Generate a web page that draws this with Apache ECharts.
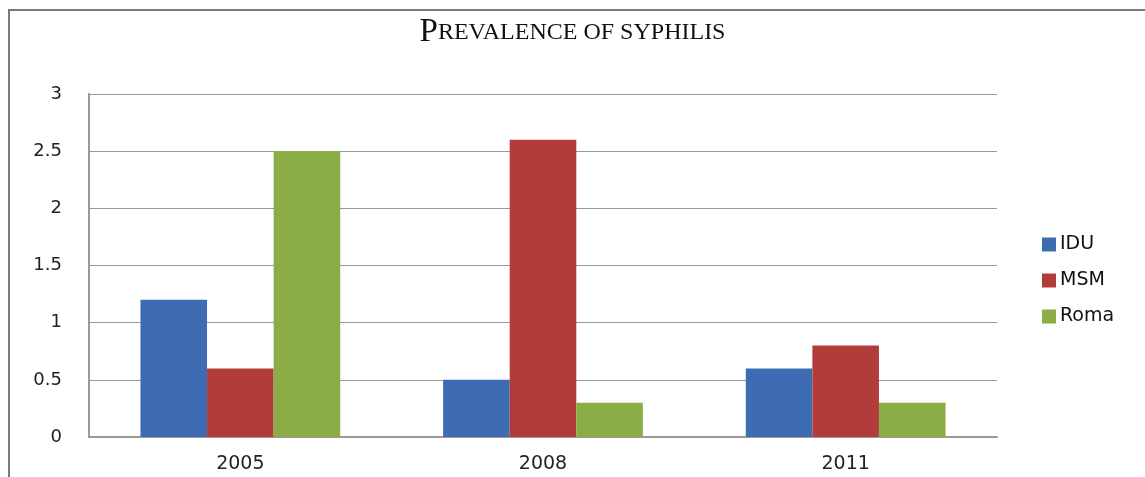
<!DOCTYPE html>
<html>
<head>
<meta charset="utf-8">
<script src="https://cdn.jsdelivr.net/npm/echarts@6/dist/echarts.min.js"></script>
<style>
  html, body { margin: 0; padding: 0; background: #fff; }
  #main { width: 1145px; height: 477px; }
</style>
</head>
<body>
<div id="main"></div>
<script>
var years = ['2005', '2008', '2011'];
var idu = [1.2, 0.5, 0.6];
var msm = [0.6, 2.6, 0.8];
var roma = [2.5, 0.3, 0.3];

var myChart = echarts.init(document.getElementById('main'));
var option = {
    backgroundColor: '#fff',
    animation: false,
    title: {
        text: '{a|P}{b|REVALENCE OF SYPHILIS}',
        left: 'center',
        top: 11,
        textStyle: {
            rich: {
                a: { fontFamily: 'Liberation Serif', fontSize: 33, fontWeight: 'normal', color: '#111' },
                b: { fontFamily: 'Liberation Serif', fontSize: 24, fontWeight: 'normal', color: '#111' }
            }
        }
    },
    graphic: [
        {
            type: 'polyline',
            shape: { points: [[9, 480], [9, 10], [1160, 10]] },
            style: { stroke: '#7a7a7a', lineWidth: 2, fill: null }
        }
    ],
    legend: {
        orient: 'vertical',
        left: 1037,
        top: 230,
        itemWidth: 14,
        itemHeight: 14,
        itemGap: 17,
        icon: 'rect',
        textStyle: { fontFamily: 'DejaVu Sans', fontSize: 19, color: '#111', padding: [0, 0, 0, -1] }
    },
    grid: {
        left: 89,
        right: 148,
        top: 94,
        bottom: 40,
        containLabel: false
    },
    xAxis: {
        type: 'category',
        data: years,
        axisLine: { lineStyle: { color: '#9a9a9a', width: 2 } },
        axisTick: { show: false },
        axisLabel: { fontFamily: 'DejaVu Sans', fontSize: 19, color: '#222', margin: 18 }
    },
    yAxis: {
        type: 'value',
        min: 0,
        max: 3,
        interval: 0.5,
        axisLine: { show: true, lineStyle: { color: '#9a9a9a', width: 2 } },
        axisTick: { show: false },
        splitLine: { lineStyle: { color: '#999', width: 1 } },
        axisLabel: { fontFamily: 'DejaVu Sans', fontSize: 18, color: '#222', margin: 27 }
    },
    series: [
        { name: 'IDU', type: 'bar', data: idu, barGap: '0%', barCategoryGap: '34%', itemStyle: { color: '#3d6cb2' } },
        { name: 'MSM', type: 'bar', data: msm, itemStyle: { color: '#b23c3a' } },
        { name: 'Roma', type: 'bar', data: roma, itemStyle: { color: '#8bad45' } }
    ]
};
myChart.setOption(option);
</script>
</body>
</html>
